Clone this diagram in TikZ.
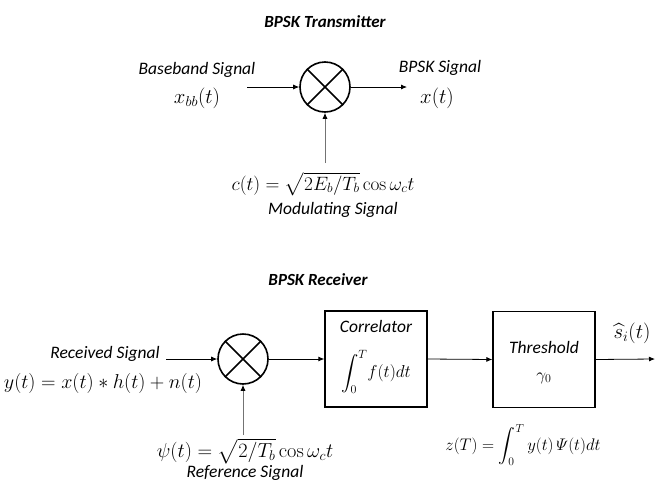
\documentclass[tikz,border=0pt]{standalone}
\usepackage{amsmath}
\usepackage{graphicx}
\usepackage[no-math]{fontspec}
\setmainfont{Carlito}
\usetikzlibrary{arrows.meta}
\tikzset{
  lbl/.style={font=\fontsize{17.5}{20}\selectfont\itshape, inner sep=0pt},
  ttl/.style={font=\fontsize{17}{19}\selectfont\bfseries\itshape, inner sep=0pt},
  mth/.style={font=\fontsize{20.74}{23}\selectfont, inner sep=0pt},
  smth/.style={font=\fontsize{17.28}{20}\selectfont, inner sep=0pt},
  mixer/.style={circle, draw, line width=1.6pt, minimum size=50pt, inner sep=0pt},
  blk/.style={draw, line width=1.3pt, minimum width=102pt, minimum height=96pt, inner sep=0pt},
  sig/.style={line width=0.8pt, -{Latex[length=6pt,width=5pt]}},
  gsig/.style={line width=0.8pt, draw=black!55, -{Latex[length=6pt,width=5pt,fill=black,color=black]}}
}
\begin{document}
\begin{tikzpicture}[x=1pt,y=-1pt]
\useasboundingbox (0,0) rectangle (657,485);
% ---------- Transmitter ----------
\node[ttl] (tt) at (325,22) {BPSK Transmitter};
\node[mixer] (m1) at (325,87) {};
\draw[line width=1.6pt] (m1.north west) -- (m1.south east) (m1.north east) -- (m1.south west);
\node[lbl] (bb) at (197,70) {Baseband Signal};
\node[mth] (xbb) at (197,98) {$x_{bb}(t)$};
\coordinate (in1) at (247,87);
\coordinate (out1) at (407,87);
\draw[sig] (in1) -- (m1.west);
\draw[sig] (m1.east) -- (out1);
\node[lbl] (bs) at (440,68) {BPSK Signal};
\node[mth] (xt) at (437,98) {$x(t)$};
\node[mth] (ct) at (323,184) {\scalebox{0.93}{$c(t)=\sqrt{2E_b/T_b}\cos\omega_c t$}};
\node[lbl] (ms) at (333,210) {Modulating Signal};
\coordinate (c1) at (325,163);
\draw[gsig] (c1) -- (m1.south);
% ---------- Receiver ----------
\node[ttl] (rt) at (318,280) {BPSK Receiver};
\node[mixer] (m2) at (243,359) {};
\draw[line width=1.6pt] (m2.north west) -- (m2.south east) (m2.north east) -- (m2.south west);
\node[lbl] (rs) at (105,354) {Received Signal};
\node[mth] (yt) at (103,383) {\scalebox{0.97}{$y(t)=x(t)*h(t)+n(t)$}};
\coordinate (in2) at (166,359);
\draw[sig] (in2) -- (m2.west);
\node[blk] (cor) at (376,359) {};
\node[lbl] (corl) at (376,326) {Correlator};
\node[smth] (cori) at (376,372) {$\displaystyle\int_0^T\! f(t)dt$};
\node[blk] (thr) at (544,359.5) {};
\node[lbl] (thrl) at (544,347) {Threshold};
\node[lbl] (thrg) at (544,378) {$\gamma_0$};
\draw[sig] (m2.east) -- (cor.west);
\draw[sig] (cor.east) -- (thr.west);
\coordinate (out2) at (655,359);
\draw[sig] (thr.east) -- (out2);
\node[mth] (sh) at (632,333) {$\widehat{s}_i(t)$};
\node[smth] (zt) at (523,445) {\scalebox{0.97}{$z(T)=\displaystyle\int_0^T y(t)\,\varPsi(t)dt$}};
\coordinate (c2) at (243,435);
\draw[gsig] (c2) -- (m2.south);
\node[mth] (psi) at (245,451) {\scalebox{0.98}{$\psi(t)=\sqrt{2/T_b}\cos\omega_c t$}};
\node[lbl] (refs) at (245,473) {Reference Signal};
\end{tikzpicture}
\end{document}
